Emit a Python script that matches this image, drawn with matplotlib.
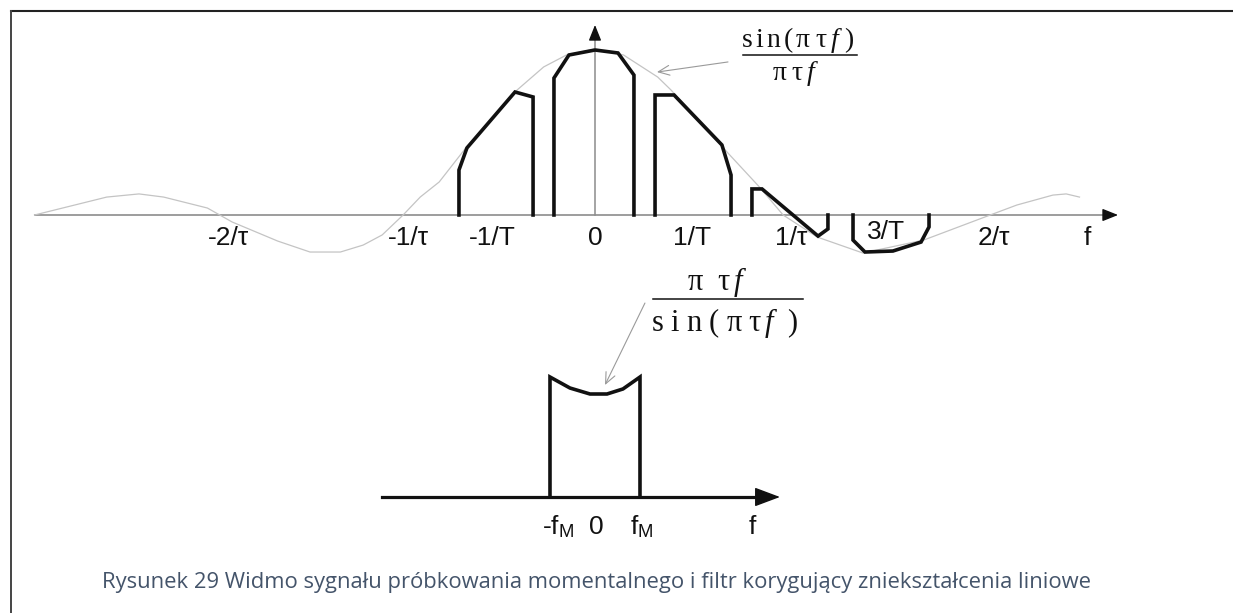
import matplotlib
matplotlib.use('Agg')
import matplotlib.pyplot as plt
from matplotlib.lines import Line2D

plt.rcParams['mathtext.fontset'] = 'custom'
plt.rcParams['mathtext.rm'] = 'Liberation Serif'
plt.rcParams['mathtext.it'] = 'Liberation Serif:italic'
plt.rcParams['mathtext.sf'] = 'Liberation Sans'

# envelope sin(pi tau f)/(pi tau f); f in units of 1/tau, amplitude normalised
sinc_f = [-2.95, -2.57, -2.40, -2.27, -2.04, -1.91, -1.67, -1.50, -1.34, -1.22,
          -1.12, -1.01, -0.92, -0.82, -0.68, -0.41, -0.27, -0.15, 0.0, 0.15,
          0.33, 0.40, 0.70, 0.87, 0.99, 1.17, 1.41, 1.73, 2.08, 2.22, 2.41,
          2.48, 2.55]
sinc_a = [0.0, 0.108, 0.127, 0.108, 0.042, -0.042, -0.157, -0.223, -0.223, -0.181,
          -0.120, 0.0, 0.108, 0.199, 0.404, 0.753, 0.892, 0.964, 1.0, 0.964,
          0.831, 0.753, 0.373, 0.163, 0.0, -0.133, -0.229, -0.151, 0.0, 0.060,
          0.120, 0.127, 0.108]

# outlines of the spectrum replicas around 0, +-1/T, 2/T, 3/T
pulse_m1_f = [-0.716, -0.716, -0.674, -0.421, -0.326, -0.326]
pulse_m1_a = [0.0, 0.271, 0.404, 0.741, 0.711, 0.0]
pulse_0_f = [-0.216, -0.216, -0.137, 0.0, 0.121, 0.205, 0.205]
pulse_0_a = [0.0, 0.825, 0.964, 0.994, 0.976, 0.843, 0.0]
pulse_1_f = [0.316, 0.316, 0.416, 0.668, 0.716, 0.716]
pulse_1_a = [0.0, 0.723, 0.723, 0.422, 0.241, 0.0]
pulse_2_f = [0.826, 0.826, 0.879, 1.174, 1.226, 1.226]
pulse_2_a = [0.0, 0.157, 0.157, -0.127, -0.084, 0.0]
pulse_3_f = [1.358, 1.358, 1.421, 1.568, 1.716, 1.758, 1.758]
pulse_3_a = [0.0, -0.151, -0.223, -0.217, -0.163, -0.072, 0.0]

top_labels = ['-2/τ', '-1/τ', '-1/T', '0', '1/T', '1/τ', '3/T', '2/τ', 'f']
top_label_f = [-1.93, -0.98, -0.54, 0.0, 0.51, 1.03, 1.53, 2.10, 2.59]

# correcting filter pi tau f / sin(pi tau f); f in units of f_M
filter_f = [-1.0, -1.0, -0.556, -0.111, 0.267, 0.622, 1.0, 1.0]
filter_g = [0.0, 1.165, 1.058, 1.0, 1.0, 1.049, 1.165, 0.0]

bottom_labels = ['-f$_\\mathsf{M}$', '0', 'f$_\\mathsf{M}$', 'f']
bottom_label_f = [-0.82, 0.02, 1.04, 3.49]

fig = plt.figure(figsize=(12.33, 6.13), dpi=100)
fig.patch.set_facecolor('white')

# page frame
fig.add_artist(Line2D([0.0089, 1.0], [0.982, 0.982], color='#222222', lw=1.5))
fig.add_artist(Line2D([0.0089, 0.0089], [0.0, 0.982], color='#444444', lw=1.4))

# ---- upper plot: spectrum ----
ax = fig.add_axes([0, 0, 1, 1])
ax.set_xlim(-3.1316, 3.3579)
ax.set_ylim(-2.3976, 1.2952)
ax.axis('off')

ax.plot([-2.95, 2.70], [0, 0], color='#8c8c8c', lw=1.2)
ax.plot([0, 0], [0, 1.10], color='#8c8c8c', lw=1.1)
ax.annotate('', xy=(2.753, 0), xytext=(2.70, 0),
            arrowprops=dict(arrowstyle='-|>,head_length=0.95,head_width=0.38',
                            mutation_scale=10, color='#111111', lw=1.0,
                            shrinkA=0, shrinkB=0))
ax.annotate('', xy=(0, 1.145), xytext=(0, 1.08),
            arrowprops=dict(arrowstyle='-|>,head_length=0.95,head_width=0.38',
                            mutation_scale=10, color='#111111', lw=1.0,
                            shrinkA=0, shrinkB=0))

ax.plot(sinc_f, sinc_a, color='#c4c4c4', lw=0.9)

for pf, pa in [(pulse_m1_f, pulse_m1_a), (pulse_0_f, pulse_0_a),
               (pulse_1_f, pulse_1_a), (pulse_2_f, pulse_2_a),
               (pulse_3_f, pulse_3_a)]:
    ax.plot(pf, pa, color='#111111', lw=2.6, solid_joinstyle='miter')

for lab, f in zip(top_labels, top_label_f):
    y = -0.105 if lab == '3/T' else -0.138
    ax.text(f, y, lab, ha='center', va='center', fontsize=19,
            family='Liberation Sans', color='#111111')

# sin(pi tau f)/(pi tau f) label
ax.text(1.068, 1.054, r'$\mathrm{s\,i\,n\,(\,\pi\;\tau}\,\mathit{f}\mathrm{\ )}$',
        ha='center', va='center', fontsize=20, color='#111111')
ax.plot([0.779, 1.379], [0.964, 0.964], color='#111111', lw=1.1)
ax.text(1.053, 0.850, r'$\mathrm{\pi\;\tau}\,\mathit{f}$',
        ha='center', va='center', fontsize=20, color='#111111')
ax.annotate('', xy=(0.326, 0.861), xytext=(0.70, 0.922),
            arrowprops=dict(arrowstyle='->,head_length=0.5,head_width=0.22',
                            mutation_scale=16, color='#9a9a9a', lw=0.8,
                            shrinkA=0, shrinkB=0))

# ---- lower plot: correcting filter ----
bx = fig.add_axes([0, 0, 1, 1])
bx.set_xlim(-13.222, 14.178)
bx.set_ylim(-1.1262, 4.8252)
bx.axis('off')

bx.plot([-4.73, 3.70], [0, 0], color='#111111', lw=2.3)
bx.annotate('', xy=(4.11, 0), xytext=(3.6, 0),
            arrowprops=dict(arrowstyle='-|>,head_length=1.6,head_width=0.6',
                            mutation_scale=10, color='#111111', lw=1.0,
                            shrinkA=0, shrinkB=0))
bx.plot(filter_f, filter_g, color='#111111', lw=2.6, solid_joinstyle='miter')

for lab, f in zip(bottom_labels, bottom_label_f):
    bx.text(f, -0.29, lab, ha='center', va='center', fontsize=19,
            family='Liberation Sans', color='#111111')

bx.text(2.711, 2.085, r'$\mathrm{\pi\ \ \tau}\,\mathit{f}$',
        ha='center', va='center', fontsize=22, color='#111111')
bx.plot([1.289, 4.622], [1.922, 1.922], color='#111111', lw=1.1)
bx.text(2.889, 1.69, r'$\mathrm{s\ i\ n\ (\ \pi\ \tau}\,\mathit{f}\mathrm{\ \ )}$',
        ha='center', va='center', fontsize=22, color='#111111')
bx.annotate('', xy=(0.222, 1.087), xytext=(1.11, 1.883),
            arrowprops=dict(arrowstyle='->,head_length=0.5,head_width=0.22',
                            mutation_scale=16, color='#9a9a9a', lw=0.8,
                            shrinkA=0, shrinkB=0))

fig.text(0.484, 0.049,
         'Rysunek 29 Widmo sygnału próbkowania momentalnego i filtr korygujący zniekształcenia liniowe',
         ha='center', va='center', fontsize=15.8, family='Open Sans', color='#44546A')

fig.savefig('out.png', dpi=100, facecolor='white')
